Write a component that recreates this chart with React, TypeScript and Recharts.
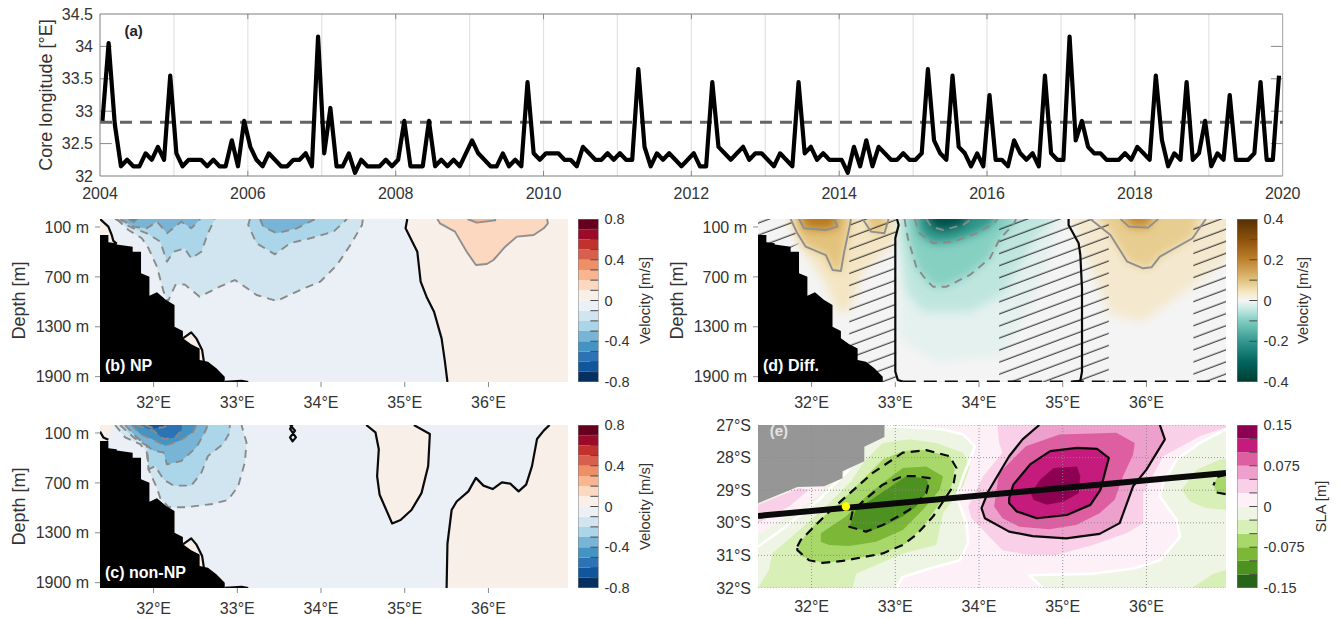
import { CSSProperties, ReactElement } from 'react';
import { LineChart, Line, ScatterChart, Scatter, XAxis, YAxis, ReferenceLine, ReferenceDot } from 'recharts';

type Pt = [number, number];
type Layer = { pts: Pt[]; fill?: string; stroke?: string; width?: number; dash?: string; closed?: boolean; soft?: boolean };

// panel (a), monthly core longitude, one row per year
const coreLongitude = [
  32.85, 34.05, 32.8, 32.15, 32.25, 32.15, 32.15, 32.35, 32.25, 32.45, 32.25, 33.55,
  32.35, 32.15, 32.25, 32.25, 32.25, 32.15, 32.25, 32.15, 32.15, 32.55, 32.15, 32.85,
  32.45, 32.25, 32.15, 32.35, 32.25, 32.15, 32.15, 32.25, 32.25, 32.35, 32.15, 34.15,
  32.35, 33.05, 32.15, 32.15, 32.35, 32.05, 32.25, 32.15, 32.15, 32.15, 32.25, 32.15,
  32.25, 32.85, 32.15, 32.15, 32.15, 32.85, 32.15, 32.25, 32.15, 32.25, 32.15, 32.35,
  32.55, 32.35, 32.25, 32.15, 32.15, 32.35, 32.15, 32.25, 32.15, 33.45, 32.35, 32.25,
  32.35, 32.35, 32.35, 32.25, 32.25, 32.15, 32.45, 32.35, 32.25, 32.25, 32.35, 32.25,
  32.35, 32.25, 32.25, 33.65, 32.45, 32.15, 32.35, 32.25, 32.35, 32.25, 32.15, 32.25,
  32.35, 32.15, 32.15, 33.45, 32.45, 32.35, 32.25, 32.35, 32.45, 32.25, 32.35, 32.35,
  32.25, 32.15, 32.35, 32.25, 32.15, 33.45, 32.35, 32.45, 32.25, 32.35, 32.25, 32.25,
  32.25, 32.05, 32.45, 32.15, 32.55, 32.15, 32.45, 32.35, 32.25, 32.25, 32.35, 32.25,
  32.25, 32.35, 33.65, 32.55, 32.35, 32.25, 33.55, 32.45, 32.35, 32.15, 32.35, 32.15,
  33.25, 32.25, 32.25, 32.15, 32.55, 32.35, 32.25, 32.35, 32.15, 33.55, 32.35, 32.25,
  32.25, 34.15, 32.55, 32.85, 32.45, 32.35, 32.35, 32.25, 32.25, 32.25, 32.35, 32.25,
  32.45, 32.35, 32.25, 33.55, 32.55, 32.15, 32.35, 32.25, 33.45, 32.25, 32.35, 32.85,
  32.15, 32.35, 32.25, 33.25, 32.25, 32.25, 32.25, 32.35, 33.45, 32.25, 32.25, 33.55,
];
const coreMean = 32.83;
const yearTicks = [2004, 2006, 2008, 2010, 2012, 2014, 2016, 2018, 2020];
const allYears = [2005, 2006, 2007, 2008, 2009, 2010, 2011, 2012, 2013, 2014, 2015, 2016, 2017, 2018, 2019];
const coreTicks = [32, 32.5, 33, 33.5, 34, 34.5];

const lonTicks = [32, 33, 34, 35, 36];
const depthTicks = [100, 700, 1300, 1900];
const latTicks = [27, 28, 29, 30, 31, 32];
const LON: Pt = [31.36, 36.95];
const DEPTH: Pt = [4, 1964];
const LAT: Pt = [27, 32];

// colour levels
const velocityLevels = [-0.8, -0.7, -0.6, -0.5, -0.4, -0.3, -0.2, -0.1, 0, 0.1, 0.2, 0.3, 0.4, 0.5, 0.6, 0.7, 0.8];
const velocityColors = ['#053061', '#11559c', '#2c73b6', '#4393c3', '#78b4d6', '#abd5e8', '#d1e5f0', '#eaf0f5', '#f8efe8', '#fdd8c1', '#f9b590', '#ee8f68', '#d6604d', '#c1322f', '#9b0a28', '#67001f'];
const diffTickLevels = [-0.4, -0.3, -0.2, -0.1, 0, 0.1, 0.2, 0.3, 0.4];
const diffStops: [number, string][] = [[0.4, '#543005'], [0.3, '#8c510a'], [0.2, '#bf812d'], [0.1, '#dfc27d'], [0.04, '#f6e8c3'], [0, '#f5f5f5'], [-0.04, '#c7eae5'], [-0.1, '#80cdc1'], [-0.2, '#35978f'], [-0.3, '#01665e'], [-0.4, '#003c30']];
const slaLevels = [-0.15, -0.125, -0.1, -0.075, -0.05, -0.025, 0, 0.025, 0.05, 0.075, 0.1, 0.125, 0.15];
const slaColors = ['#276419', '#4d9221', '#7cb738', '#a9d86a', '#d9efb8', '#eef5e4', '#fdf0f6', '#fad0e8', '#eea0cc', '#de5fa1', '#c51b7d', '#8e0152'];

// bottom topography, shared by the depth sections
const seabed: Pt[] = [[31.36, 196], [31.46, 196], [31.46, 284], [31.56, 296], [31.56, 310], [31.75, 337], [31.75, 397], [31.85, 397], [31.85, 657], [31.95, 697], [31.95, 926], [32.04, 886], [32.15, 978], [32.25, 1038], [32.25, 1299], [32.35, 1351], [32.35, 1439], [32.45, 1511], [32.55, 1560], [32.55, 1700], [32.65, 1720], [32.75, 1800], [32.85, 1900], [32.85, 1964], [31.36, 1964]];
const seabedPocket: Pt[] = [[32.35, 1439], [32.45, 1367], [32.51, 1439], [32.58, 1580], [32.60, 1712], [32.5, 1712]];
const pocketLine: Pt[] = [[32.35, 1439], [32.45, 1367], [32.51, 1439], [32.58, 1580], [32.60, 1712]];
const footLine: Pt[] = [[32.85, 1961], [33.05, 1949], [33.13, 1964]];

// panel (b) contours
const bZero: Pt[] = [[35.03, 4], [35.01, 116], [35.08, 256], [35.15, 397], [35.19, 758], [35.26, 938], [35.35, 1119], [35.44, 1439], [35.48, 1720], [35.51, 1964]];
const bPlus1: Pt[] = [[35.39, 4], [35.42, 56], [35.60, 156], [35.74, 397], [35.85, 557], [35.98, 545], [36.06, 497], [36.20, 337], [36.34, 216], [36.54, 196], [36.66, 116], [36.71, 56], [36.70, 4]];
const bPlus2: Pt[] = [[35.75, 4], [35.86, 48], [36.08, 20], [36.08, 4]];
const bMinus1: Pt[] = [[31.56, 4], [31.70, 136], [31.86, 236], [31.94, 357], [32.04, 577], [32.12, 878], [32.17, 998], [32.26, 798], [32.37, 790], [32.55, 938], [32.79, 818], [32.97, 738], [33.09, 818], [33.23, 918], [33.47, 990], [33.75, 858], [33.99, 758], [34.19, 557], [34.35, 317], [34.49, 76], [34.50, 4]];
const bMinus2a: Pt[] = [[31.54, 4], [31.76, 116], [31.92, 176], [32.08, 276], [32.16, 517], [32.24, 397], [32.37, 357], [32.45, 477], [32.57, 397], [32.65, 176], [32.73, 4]];
const bMinus2b: Pt[] = [[33.15, 4], [33.13, 76], [33.23, 296], [33.45, 429], [33.63, 296], [33.87, 236], [34.15, 156], [34.31, 4]];
const bMinus3a: Pt[] = [[31.60, 4], [31.76, 96], [31.92, 116], [32.04, 36], [32.16, 176], [32.33, 36], [32.45, 116], [32.55, 12], [32.55, 4]];
const bMinus3b: Pt[] = [[33.27, 4], [33.31, 96], [33.47, 176], [33.71, 116], [33.93, 4]];
const bMinus4: Pt[] = [[31.70, 4], [31.76, 44], [31.82, 4]];
const bCorner: Pt[] = [[31.36, 4], [31.46, 96], [31.50, 196], [31.52, 268], [31.56, 300]];

// panel (c) contours
const cLens: Pt[] = [[34.54, 4], [34.65, 92], [34.69, 295], [34.67, 620], [34.70, 843], [34.85, 1188], [34.95, 1147], [35.08, 1026], [35.20, 823], [35.28, 498], [35.30, 112], [35.12, 11], [35.11, 4]];
const cRight: Pt[] = [[35.50, 1964], [35.51, 1432], [35.56, 1026], [35.62, 924], [35.76, 802], [35.85, 640], [35.94, 733], [36.05, 774], [36.16, 693], [36.26, 709], [36.36, 802], [36.45, 721], [36.52, 498], [36.58, 173], [36.66, 72], [36.73, 4]];
const cLoop: Pt[] = [[33.63, 4], [33.69, 72], [33.63, 153], [33.66, 201], [33.70, 153], [33.63, 51], [33.66, 4]];
const cCorner: Pt[] = [[31.36, 84], [31.40, 153], [31.46, 181]];
const cMinus1: Pt[] = [[31.54, 4], [31.66, 153], [31.84, 234], [31.92, 335], [31.94, 538], [32.04, 762], [32.08, 884], [32.18, 993], [32.39, 993], [32.71, 953], [32.89, 904], [33.01, 741], [33.09, 457], [33.11, 214], [33.05, 4]];
const cMinus2: Pt[] = [[31.60, 4], [31.76, 153], [31.92, 254], [31.94, 538], [32.02, 498], [32.12, 660], [32.24, 733], [32.45, 733], [32.57, 579], [32.65, 376], [32.83, 234], [32.91, 92], [32.91, 4]];
const cMinus3: Pt[] = [[31.66, 4], [31.80, 153], [32.00, 315], [32.12, 335], [32.16, 478], [32.33, 437], [32.51, 275], [32.60, 112], [32.65, 4]];
const cMinus4: Pt[] = [[31.74, 4], [31.84, 112], [31.98, 173], [32.14, 254], [32.31, 193], [32.47, 92], [32.51, 4]];
const cMinus5: Pt[] = [[31.80, 4], [32.00, 72], [32.12, 173], [32.26, 153], [32.33, 72], [32.35, 4]];
const cMinus6: Pt[] = [[31.90, 4], [32.00, 43], [32.12, 31], [32.16, 4]];

// panel (d) soft shading (runs past the frame so the blur does not fade at the edge)
const dBrownWide: Pt[] = [[31.65, -200], [31.89, 357], [32.17, 798], [32.31, 1118], [32.45, 1118], [32.61, 637], [32.93, 357], [33.05, 196], [33.05, -200]];
const dBrownRightWide: Pt[] = [[35.07, -200], [35.21, 316], [35.57, 1158], [35.96, 1239], [36.52, 838], [37.3, 236], [37.3, -200]];
const dTealFaint: Pt[] = [[33.05, -200], [33.05, 1439], [33.49, 1720], [34.28, 1640], [34.72, 838], [35.04, -200]];
const dTealPale: Pt[] = [[33.05, -200], [33.05, 236], [33.13, 878], [33.33, 1118], [33.89, 1118], [34.28, 918], [34.68, 236], [35.04, -200]];
// panel (d) contour lines
const dPlus1a: Pt[] = [[31.75, 4], [31.83, 176], [31.93, 337], [32.17, 437], [32.25, 617], [32.35, 629], [32.39, 397], [32.45, 116], [32.47, 4]];
const dPlus2a: Pt[] = [[31.85, 4], [31.91, 116], [32.17, 136], [32.31, 96], [32.27, 4]];
const dPlus1b: Pt[] = [[32.61, 4], [32.71, 156], [32.87, 176], [32.92, 4]];
const dPlus1c: Pt[] = [[35.33, 4], [35.57, 196], [35.77, 517], [35.96, 597], [36.06, 585], [36.16, 457], [36.55, 236], [36.71, 4]];
const dPlus2c: Pt[] = [[35.69, 4], [35.79, 96], [36.02, 108], [36.14, 4]];
const dMinus1: Pt[] = [[33.11, 4], [33.15, 236], [33.25, 577], [33.37, 738], [33.45, 818], [33.61, 818], [33.89, 677], [34.13, 477], [34.24, 256], [34.42, 56], [34.44, 4]];
const dMinus2: Pt[] = [[33.23, 4], [33.29, 176], [33.45, 296], [33.69, 276], [33.97, 176], [34.18, 56], [34.22, 4]];
const dMinus3: Pt[] = [[33.37, 4], [33.43, 96], [33.57, 136], [33.81, 76], [33.91, 4]];
const dZeroLeft: Pt[] = [[33.02, 4], [33.04, 76], [33.00, 236], [33.00, 1840], [33.03, 1940], [33.09, 1958]];
const dZeroRight: Pt[] = [[35.07, 4], [35.07, 76], [35.19, 296], [35.21, 437], [35.23, 838], [35.23, 1840], [35.21, 1949], [35.12, 1958]];
const dBottom: Pt[] = [[33.09, 1958], [36.95, 1958]];
const hatchRegions: Pt[][] = [
  [[31.36, 4], [31.75, 4], [31.85, 300], [31.70, 380], [31.36, 380]],
  [[32.45, 4], [33.01, 4], [33.01, 1964], [32.45, 1964]],
  [[34.24, 4], [35.55, 4], [35.55, 1964], [34.24, 1964]],
  [[36.56, 4], [36.95, 4], [36.95, 1964], [36.56, 1964]],
];

// panel (e) land and SLA bands
const eLand: Pt[] = [[31.36, 27], [32.87, 27], [32.87, 27.37], [32.63, 27.67], [32.63, 28.11], [32.37, 28.42], [32.37, 28.63], [32.15, 28.88], [31.83, 28.9], [31.36, 29.4]];
const eWedgePale: Pt[] = [[31.36, 29.45], [31.85, 28.9], [32.17, 28.86], [32.05, 29.24], [31.77, 29.71], [31.36, 30.37]];
const eWedge: Pt[] = [[31.36, 29.45], [31.85, 28.93], [31.97, 28.99], [31.73, 29.5], [31.36, 30.01]];
const ePinkEdgeA: Pt[] = [[32.89, 27.03], [33.57, 27.13], [33.81, 27.29], [33.95, 27.65], [33.89, 28.06], [33.81, 28.57], [33.73, 29.19], [33.85, 30.01], [33.87, 30.63], [33.77, 31.15], [33.41, 31.4], [33.09, 31.66], [33.01, 32]];
const ePinkEdgeB: Pt[] = [[34.76, 32], [34.60, 31.61], [35.36, 31.56], [35.84, 31.4], [36.16, 31.15], [36.40, 30.43], [36.36, 29.91], [36.16, 29.19], [36.20, 28.78], [36.36, 28.06], [36.64, 27.55], [36.95, 27.13]];
const ePink1: Pt[] = [...ePinkEdgeA, ...ePinkEdgeB, [36.95, 27]];
const ePink2: Pt[] = [[34.22, 27], [34.24, 27.55], [34.28, 27.85], [34.05, 28.57], [33.87, 29.5], [33.91, 29.86], [34.28, 30.84], [34.56, 30.97], [34.92, 30.99], [35.36, 30.68], [35.76, 30.32], [35.96, 30.01], [35.96, 29.09], [36.20, 27.96], [36.64, 27.34], [36.95, 27.08], [36.95, 27]];
const ePink3: Pt[] = [[34.72, 27], [34.52, 27.44], [34.36, 27.96], [34.11, 29.04], [34.03, 29.55], [34.07, 29.86], [34.36, 30.27], [34.64, 30.41], [35.04, 30.48], [35.44, 30.34], [35.68, 30.01], [35.84, 28.88], [36.00, 28.37], [36.22, 27.44], [36.16, 27]];
const ePink4: Pt[] = [[34.18, 29.5], [34.28, 29.86], [34.48, 30.12], [34.84, 30.2], [35.16, 30.07], [35.44, 29.71], [35.62, 29.29], [35.72, 28.57], [35.84, 27.91], [35.86, 27.55], [35.64, 27.24], [34.96, 27.29], [34.56, 27.65], [34.24, 28.47]];
const ePink5: Pt[] = [[34.36, 29.24], [34.41, 28.83], [34.61, 28.21], [34.85, 27.8], [35.17, 27.7], [35.41, 27.73], [35.55, 28.01], [35.45, 28.99], [35.33, 29.45], [35.05, 29.76], [34.69, 29.86], [34.45, 29.65], [34.36, 29.4]];
const ePink6: Pt[] = [[34.62, 29.09], [34.73, 28.68], [34.89, 28.32], [35.17, 28.27], [35.21, 28.57], [35.19, 29.09], [35.01, 29.35], [34.81, 29.45], [34.65, 29.29]];
const eGreen1: Pt[] = [[31.36, 32], [31.49, 31.45], [31.53, 30.94], [31.81, 30.32], [32.17, 29.5], [32.47, 28.73], [32.63, 28.11], [32.85, 27.55], [33.17, 27.44], [33.49, 27.55], [33.81, 27.85], [33.89, 28.27], [33.81, 28.88], [33.57, 29.71], [33.49, 30.68], [33.09, 30.94], [32.53, 31.56], [32.49, 32]];
const eGreen2: Pt[] = [[31.85, 30.94], [31.85, 30.63], [32.05, 30.01], [32.33, 29.4], [32.65, 28.57], [32.85, 28.06], [33.09, 27.8], [33.33, 27.77], [33.65, 27.96], [33.71, 28.37], [33.67, 28.88], [33.53, 29.4], [33.33, 30.12], [33.13, 30.63], [32.85, 30.94], [32.37, 31.17], [32.13, 31.23], [31.89, 31.04]];
const eGreen3: Pt[] = [[32.11, 30.58], [32.11, 30.32], [32.41, 29.81], [32.69, 29.09], [32.85, 28.78], [33.09, 28.32], [33.37, 28.27], [33.57, 28.57], [33.53, 28.99], [33.33, 29.6], [33.09, 30.22], [32.77, 30.58], [32.45, 30.71], [32.21, 30.68]];
const eGreen4: Pt[] = [[32.45, 30.12], [32.53, 29.6], [32.77, 29.19], [33.13, 28.57], [33.37, 28.63], [33.41, 28.93], [33.25, 29.5], [33.09, 29.81], [32.89, 30.07], [32.69, 30.27]];
const eDashOuter: Pt[] = [[31.83, 30.73], [31.87, 30.53], [32.17, 29.76], [32.37, 29.29], [32.73, 28.47], [33.09, 27.85], [33.37, 27.77], [33.65, 27.96], [33.73, 28.32], [33.69, 28.88], [33.45, 29.81], [33.25, 30.37], [33.09, 30.68], [32.85, 30.94], [32.37, 31.17], [32.13, 31.23], [31.97, 31.15], [31.83, 30.84]];
const eDashInner: Pt[] = [[32.49, 29.65], [32.45, 30.12], [32.65, 30.27], [32.85, 30.07], [33.17, 29.6], [33.37, 29.09], [33.41, 28.63], [33.25, 28.57], [33.09, 28.57], [32.85, 28.83], [32.61, 29.35]];
const eEastGreen: Pt[] = [[36.42, 28.99], [36.60, 28.37], [36.88, 28.06], [36.95, 28.04], [36.95, 29.6], [36.72, 29.55], [36.52, 29.35]];
const eEastGreen2: Pt[] = [[36.80, 28.83], [36.84, 28.63], [36.95, 28.57], [36.95, 29.09], [36.84, 29.09]];
const eEastDashA: Pt[] = [[36.95, 28.53], [36.84, 28.6], [36.80, 28.85]];
const eEastDashB: Pt[] = [[36.84, 29.07], [36.95, 29.12]];
const eSouthGreen: Pt[] = [[36.54, 32], [36.80, 31.56], [36.95, 31.45], [36.95, 32]];
const eWhiteWest: Pt[] = [[31.36, 30.73], [31.69, 30.12], [32.09, 29.29], [32.41, 28.47], [32.47, 28.27]];
const trackLine: Pt[] = [[31.36, 29.79], [36.95, 28.47]];
const coreSite: Pt = [32.41, 29.5];

const FONT = '"Liberation Sans", Arial, sans-serif';
const INK = '#333333';
const tickStyle = { fontSize: 16, fill: INK, fontFamily: FONT };
const SEC_DASH = '8 6';

const rect = (x: Pt, y: Pt): Pt[] => [[x[0], y[0]], [x[1], y[0]], [x[1], y[1]], [x[0], y[1]]];

function layerSeries(layers: Layer[], prefix: string, softId?: string): ReactElement[] {
  return layers.map((l, i) => (
    <Scatter
      key={prefix + i}
      data={l.pts.map(([x, y]) => ({ x, y }))}
      isAnimationActive={false}
      shape={() => <g />}
      line={(p: any) => {
        const d = p.points.map((q: any, j: number) => `${j ? 'L' : 'M'}${q.x} ${q.y}`).join('') + (l.closed === false ? '' : 'Z');
        return (
          <path
            d={d}
            fill={l.fill ?? 'none'}
            stroke={l.stroke ?? 'none'}
            strokeWidth={l.width ?? 1.5}
            strokeDasharray={l.dash}
            strokeLinejoin="round"
            filter={l.soft && softId ? `url(#${softId})` : undefined}
          />
        );
      }}
    />
  ));
}

const dashed = (pts: Pt[]): Layer => ({ pts, stroke: '#8a8a8a', width: 1.9, dash: SEC_DASH, closed: false });
const grayLine = (pts: Pt[]): Layer => ({ pts, stroke: '#8f8f8f', width: 1.9, closed: false });
const blackLine = (pts: Pt[], width = 2.2): Layer => ({ pts, stroke: '#0a0a0a', width, closed: false });

const MT = 12;
const PW = 468;
const PH = 163;

function Section(props: { id: string; left: number; top: number; yw: number; layers: Layer[]; label: string; lx: number; ly: number; yTicks: number[]; yDomain: Pt; yFmt: (v: number) => string; tickLine: boolean; yTitle?: boolean; labelFill?: string; labelSize?: number; defs?: ReactElement }) {
  const { id, left, top, yw, layers, label, lx, ly, yTicks, yDomain, yFmt, tickLine, yTitle, labelFill, labelSize, defs } = props;
  const ax = { stroke: '#8a8a8a' };
  return (
    <div style={{ position: 'absolute', left: left - yw, top: top - MT }}>
      <ScatterChart width={yw + PW + 10} height={MT + PH + 34} margin={{ top: MT, right: 10, bottom: 0, left: 0 }}>
        <defs>
          <clipPath id={`clip-${id}`}><rect x={yw} y={MT} width={PW} height={PH} /></clipPath>
          {defs}
        </defs>
        <XAxis type="number" dataKey="x" domain={LON} ticks={lonTicks} allowDataOverflow height={34} tick={tickStyle} tickFormatter={(v: number) => `${v}°E`} axisLine={false} tickLine={tickLine ? ax : false} tickSize={5} tickMargin={tickLine ? 10 : 12} />
        <YAxis type="number" dataKey="y" domain={yDomain} ticks={yTicks} reversed allowDataOverflow width={yw} tick={tickStyle} tickFormatter={yFmt} axisLine={false} tickLine={tickLine ? ax : false} tickSize={tickLine ? 5 : 10} tickMargin={tickLine ? 6 : 2} interval={0}
          label={yTitle ? { value: 'Depth [m]', angle: -90, position: 'insideLeft', offset: yw - 81, style: { textAnchor: 'middle', fontSize: 18, fill: INK, fontFamily: FONT } } : undefined} />
        {layerSeries(layers, id, `soft-${id}`)}
        <ReferenceDot x={lx} y={ly} r={0} fill="none" stroke="none" ifOverflow="visible" label={{ value: label, position: 'right', offset: 0, fill: labelFill ?? '#ffffff', fontWeight: 700, fontSize: labelSize ?? 16, fontFamily: FONT }} />
      </ScatterChart>
    </div>
  );
}

function ColorBar(props: { id: string; left: number; top: number; levels: number[]; colors?: string[]; gradient?: [number, string][]; marks: number[]; ticks: number[]; title: string; axisW: number; titleOffset: number }) {
  const { id, left, top, levels, colors, gradient, marks, ticks, title, axisW, titleOffset } = props;
  const yr: Pt = [levels[0], levels[levels.length - 1]];
  const bands: Layer[] = gradient
    ? [{ pts: rect([0, 1], yr), fill: `url(#grad-${id})` }]
    : levels.slice(0, -1).map((lv, i) => ({ pts: rect([0, 1], [lv, levels[i + 1]]), fill: colors![i] }));
  const markLayers: Layer[] = marks.map((m) => ({ pts: [[0.6, m], [1, m]], stroke: '#4a4a4a', width: 1, closed: false }));
  const frame: Layer = { pts: rect([0, 1], yr), stroke: '#808080', width: 1 };
  return (
    <div style={{ position: 'absolute', left, top: top - MT }}>
      <ScatterChart width={20.5 + axisW} height={MT + PH + 12} margin={{ top: MT, right: 0, bottom: 12, left: 0 }}>
        {gradient && (
          <defs>
            <linearGradient id={`grad-${id}`} x1="0" y1="0" x2="0" y2="1">
              {gradient.map(([v, c]) => <stop key={v} offset={(yr[1] - v) / (yr[1] - yr[0])} stopColor={c} />)}
            </linearGradient>
          </defs>
        )}
        <XAxis type="number" dataKey="x" domain={[0, 1]} hide allowDataOverflow />
        <YAxis type="number" dataKey="y" orientation="right" domain={yr} ticks={ticks} width={axisW} allowDataOverflow interval={0} axisLine={false} tickLine={false} tickSize={6} tickMargin={0}
          tick={{ fontSize: 14.5, fill: INK, fontFamily: FONT, textAnchor: 'start' }}
          label={{ value: title, angle: -90, position: 'insideRight', offset: titleOffset, style: { textAnchor: 'middle', fontSize: 14.8, fill: INK, fontFamily: FONT } }} />
        {layerSeries([...bands, ...markLayers, frame], `bar-${id}`)}
      </ScatterChart>
    </div>
  );
}

const VEL_BG = velocityColors[7];
const VEL_POS = velocityColors[8];
const seabedLayers: Layer[] = [{ pts: seabed, fill: '#000000' }];

const bLayers: Layer[] = [
  { pts: rect(LON, DEPTH), fill: VEL_BG },
  { pts: [...bZero, [36.95, 1964], [36.95, 4]], fill: VEL_POS },
  { pts: bPlus1, fill: velocityColors[9] },
  { pts: bPlus2, fill: velocityColors[10] },
  { pts: [...bCorner, [31.36, 300]], fill: VEL_POS },
  { pts: seabedPocket, fill: VEL_POS },
  { pts: bMinus1, fill: velocityColors[6] },
  { pts: bMinus2a, fill: velocityColors[5] },
  { pts: bMinus2b, fill: velocityColors[5] },
  { pts: bMinus3a, fill: velocityColors[4] },
  { pts: bMinus3b, fill: velocityColors[4] },
  { pts: bMinus4, fill: velocityColors[3] },
  ...[bMinus1, bMinus2a, bMinus2b, bMinus3a, bMinus3b, bMinus4].map(dashed),
  grayLine(bPlus1), grayLine(bPlus2),
  ...seabedLayers,
  blackLine(bZero), blackLine(bCorner), blackLine(pocketLine), blackLine(footLine),
];

const cLayers: Layer[] = [
  { pts: rect(LON, DEPTH), fill: VEL_BG },
  { pts: cLens, fill: VEL_POS },
  { pts: [...cRight, [36.95, 4], [36.95, 1964]], fill: VEL_POS },
  { pts: [[31.36, 4], [31.50, 4], [31.46, 181], [31.36, 181]], fill: VEL_POS },
  { pts: seabedPocket, fill: VEL_POS },
  { pts: cMinus1, fill: velocityColors[6] },
  { pts: cMinus2, fill: velocityColors[5] },
  { pts: cMinus3, fill: velocityColors[4] },
  { pts: cMinus4, fill: velocityColors[3] },
  { pts: cMinus5, fill: velocityColors[2] },
  { pts: cMinus6, fill: velocityColors[1] },
  ...[cMinus1, cMinus2, cMinus3, cMinus4, cMinus5, cMinus6].map(dashed),
  ...seabedLayers,
  blackLine(cLens), blackLine(cRight), blackLine(cLoop), blackLine(cCorner), blackLine(pocketLine), blackLine(footLine),
];

const soft = (pts: Pt[], fill: string): Layer => ({ pts, fill, soft: true });
const lift = (pts: Pt[]): Pt[] => pts.map(([x, y]) => [x, y === 4 ? -200 : y]);
const dLayers: Layer[] = [
  { pts: rect(LON, DEPTH), fill: '#f4f4f4' },
  soft(dBrownWide, '#f4e6c4'),
  soft(dBrownRightWide, '#f4e9cf'),
  soft(lift(dPlus1a), '#e3c27c'),
  soft(lift(dPlus1b), '#e3c27c'),
  soft(lift(dPlus1c), '#e8cd90'),
  soft(lift(dPlus2a), '#b97a1e'),
  soft(lift(dPlus2c), '#c48a30'),
  soft(dTealFaint, '#e4f1ee'),
  soft(dTealPale, '#bfe6de'),
  soft(lift(dMinus1), '#86d0c2'),
  soft(lift(dMinus2), '#2f9589'),
  soft(lift(dMinus3), '#04504a'),
  ...hatchRegions.map((pts): Layer => ({ pts, fill: 'url(#hatch-d)' })),
  ...[dMinus1, dMinus2, dMinus3].map(dashed),
  ...[dPlus1a, dPlus2a, dPlus1b, dPlus1c, dPlus2c].map(grayLine),
  ...seabedLayers,
  blackLine(dZeroLeft), blackLine(dZeroRight),
  { pts: dBottom, stroke: '#0a0a0a', width: 2, dash: '13 8', closed: false },
];

const dDefs = (
  <>
    <filter id="soft-d" x="-40%" y="-40%" width="180%" height="180%"><feGaussianBlur stdDeviation="5" /></filter>
    <pattern id="hatch-d" width="120" height="11.3" patternUnits="userSpaceOnUse" patternTransform="rotate(-20.5)">
      <line x1="0" x2="120" y1="5" y2="5" stroke="#111111" strokeWidth="1" />
    </pattern>
  </>
);

const eBands: Layer[] = [
  { pts: rect(LON, LAT), fill: slaColors[5] },
  { pts: eWedgePale, fill: slaColors[6] },
  { pts: eWedge, fill: slaColors[7] },
  { pts: ePink1, fill: slaColors[6] },
  { pts: ePink2, fill: slaColors[7] },
  { pts: ePink3, fill: slaColors[8] },
  { pts: ePink4, fill: slaColors[9] },
  { pts: ePink5, fill: slaColors[10] },
  { pts: ePink6, fill: slaColors[11] },
  { pts: eGreen1, fill: slaColors[4] },
  { pts: eGreen2, fill: slaColors[3] },
  { pts: eGreen3, fill: slaColors[2] },
  { pts: eGreen4, fill: slaColors[1] },
  { pts: eEastGreen, fill: slaColors[4] },
  { pts: eEastGreen2, fill: slaColors[3] },
  { pts: eSouthGreen, fill: slaColors[4] },
];
const eGrid: Layer[] = [
  ...lonTicks.map((lon): Layer => ({ pts: [[lon, 27], [lon, 32]], stroke: '#8a8a8a', width: 0.9, dash: '1 2', closed: false })),
  ...latTicks.map((lat): Layer => ({ pts: [[LON[0], lat], [LON[1], lat]], stroke: '#8a8a8a', width: 0.9, dash: '1 2', closed: false })),
];
const white = (pts: Pt[]): Layer => ({ pts, stroke: '#ffffff', width: 2.6, closed: false });
const blackDash = (pts: Pt[], closed = true): Layer => ({ pts, stroke: '#0a0a0a', width: 2.2, dash: '9 6', closed });
const eLayers: Layer[] = [
  ...eBands,
  white(ePinkEdgeA), white(ePinkEdgeB), white(eWhiteWest),
  { pts: eLand, fill: '#969696' },
  ...eGrid,
  blackLine(ePink3), { pts: ePink5, stroke: '#0a0a0a', width: 2.2 },
  blackDash(eDashOuter), blackDash(eDashInner), blackDash(eEastDashA, false), blackDash(eEastDashB, false),
  blackLine(trackLine, 6),
];

const coreData = coreLongitude.map((v, i) => ({ t: 2004 + (i + 0.4) / 12, v }));

const pageStyle: CSSProperties = { position: 'absolute', left: 0, top: 0, width: 1338, height: 618, background: '#ffffff', fontFamily: FONT, overflow: 'hidden' };

export default function App() {
  const frame = '#7f7f7f';
  return (
    <div style={pageStyle}>
      <div style={{ position: 'absolute', left: 30, top: 0 }}>
        <LineChart data={coreData} width={1300} height={206} margin={{ top: 14, right: 47.3, bottom: 0, left: 0 }}>
          <XAxis type="number" dataKey="t" domain={[2004, 2020]} ticks={yearTicks} height={30} tick={tickStyle} axisLine={{ stroke: frame }} tickLine={false} tickSize={7} tickMargin={5} interval={0} />
          <YAxis type="number" domain={[32, 34.5]} ticks={coreTicks} width={70} tick={tickStyle} axisLine={{ stroke: frame }} tickLine={false} tickSize={7} tickMargin={0} interval={0}
            label={{ value: 'Core longitude [°E]', angle: -90, position: 'insideLeft', offset: 16, style: { textAnchor: 'middle', fontSize: 18, fill: INK, fontFamily: FONT } }} />
          {allYears.map((yr) => <ReferenceLine key={yr} x={yr} stroke="#e2e2e2" strokeWidth={1.2} />)}
          {yearTicks.slice(1, -1).flatMap((yr) => [
            <ReferenceLine key={`b${yr}`} segment={[{ x: yr, y: 32 }, { x: yr, y: 32.08 }]} stroke="#8a8a8a" />,
            <ReferenceLine key={`t${yr}`} segment={[{ x: yr, y: 34.42 }, { x: yr, y: 34.5 }]} stroke="#8a8a8a" />,
          ])}
          {coreTicks.slice(1, -1).flatMap((v) => [
            <ReferenceLine key={`l${v}`} segment={[{ x: 2004, y: v }, { x: 2004.16, y: v }]} stroke="#8a8a8a" />,
            <ReferenceLine key={`r${v}`} segment={[{ x: 2019.84, y: v }, { x: 2020, y: v }]} stroke="#8a8a8a" />,
          ])}
          <ReferenceLine y={34.5} stroke={frame} strokeWidth={1.2} />
          <ReferenceLine x={2020} stroke="#a0a0a0" />
          <ReferenceLine y={coreMean} stroke="#646464" strokeWidth={3} strokeDasharray="12 8" />
          <Line type="linear" dataKey="v" stroke="#000000" strokeWidth={4.2} dot={false} isAnimationActive={false} strokeLinejoin="round" />
          <ReferenceDot x={2004.33} y={34.24} r={0} fill="none" stroke="none" label={{ value: '(a)', position: 'right', offset: 0, fontWeight: 700, fontSize: 15, fill: '#222222', fontFamily: FONT }} />
        </LineChart>
      </div>

      <Section id="b" left={100} top={219} yw={100} layers={bLayers} label="(b) NP" lx={31.42} ly={1758} yTicks={depthTicks} yDomain={DEPTH} yFmt={(v) => `${v} m`} tickLine yTitle />
      <Section id="c" left={100} top={425} yw={100} layers={cLayers} label="(c) non-NP" lx={31.42} ly={1770} yTicks={depthTicks} yDomain={DEPTH} yFmt={(v) => `${v} m`} tickLine yTitle />
      <Section id="d" left={758} top={219} yw={100} layers={dLayers} label="(d) Diff." lx={31.42} ly={1758} yTicks={depthTicks} yDomain={DEPTH} yFmt={(v) => `${v} m`} tickLine yTitle defs={dDefs} />

      <div style={{ position: 'absolute', left: 658, top: 413 }}>
        <ScatterChart width={100 + PW + 10} height={MT + PH + 34} margin={{ top: MT, right: 10, bottom: 0, left: 0 }}>
          <XAxis type="number" dataKey="x" domain={LON} ticks={lonTicks} allowDataOverflow height={34} tick={tickStyle} tickFormatter={(v: number) => `${v}°E`} axisLine={false} tickLine={false} tickSize={5} tickMargin={8} />
          <YAxis type="number" dataKey="y" domain={LAT} ticks={latTicks} reversed allowDataOverflow width={100} tick={tickStyle} tickFormatter={(v: number) => `${v}°S`} axisLine={false} tickLine={false} tickSize={7} tickMargin={0} interval={0} />
          {layerSeries(eLayers, 'e')}
          <Scatter data={[{ x: coreSite[0], y: coreSite[1] }]} isAnimationActive={false} shape={(p: any) => <circle cx={p.cx} cy={p.cy} r={4.2} fill="#ffff00" />} />
          <ReferenceDot x={31.5} y={27.17} r={0} fill="none" stroke="none" label={{ value: '(e)', position: 'right', offset: 0, fill: '#e4e4e4', fontWeight: 700, fontSize: 15, fontFamily: FONT }} />
        </ScatterChart>
      </div>

      <ColorBar id="b" left={578} top={219} levels={velocityLevels} colors={velocityColors} marks={velocityLevels.slice(1, -1)} ticks={[-0.8, -0.4, 0, 0.4, 0.8]} title="Velocity [m/s]" axisW={60} titleOffset={13.5} />
      <ColorBar id="c" left={578} top={425} levels={velocityLevels} colors={velocityColors} marks={velocityLevels.slice(1, -1)} ticks={[-0.8, -0.4, 0, 0.4, 0.8]} title="Velocity [m/s]" axisW={60} titleOffset={13.5} />
      <ColorBar id="d" left={1237} top={219} levels={diffTickLevels} gradient={diffStops} marks={diffTickLevels.slice(1, -1)} ticks={[-0.4, -0.2, 0, 0.2, 0.4]} title="Velocity [m/s]" axisW={60} titleOffset={14.5} />
      <ColorBar id="e" left={1237} top={425} levels={slaLevels} colors={slaColors} marks={slaLevels.slice(1, -1)} ticks={[-0.15, -0.075, 0, 0.075, 0.15]} title="SLA [m]" axisW={80} titleOffset={17} />
    </div>
  );
}
